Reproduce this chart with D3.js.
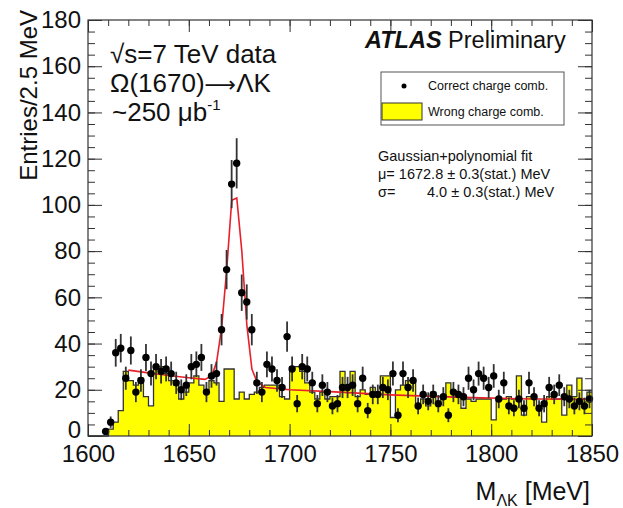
<!DOCTYPE html>
<html>
<head>
<meta charset="utf-8">
<script src="https://cdn.jsdelivr.net/npm/d3@7"></script>
<style>
  body { margin: 0; background: #fff; }
  text { font-family: "Liberation Sans", Arial, Helvetica, sans-serif; fill: #111; }
</style>
</head>
<body>
<div id="chart"></div>
<script>
// bins of 2.5 MeV starting at 1600 MeV
const binStart = 1600;
const binWidth = 2.5;

// wrong charge combinations (yellow histogram), one value per bin
const wrongCounts = [
  0, 0, 0, 0, 3, 6, 11, 28, 24, 22,
  25, 17, 13, 30, 30, 27, 24, 22, 16, 19,
  23, 26, 22, 20, 24, 23, 15, 29, 29, 16,
  19, 16, 18, 19, 21, 22, 22, 22, 17, 16,
  30, 30, 28, 23, 19, 16, 19, 16, 17, 17,
  28, 21, 28, 17, 20, 18, 21, 18, 26, 26,
  8, 20, 22, 24, 24, 13, 16, 13, 19, 14,
  16, 23, 19, 18, 12, 16, 15, 16, 16, 16,
  7, 16, 16, 17, 16, 26, 9, 17, 17, 13,
  6, 17, 16, 16, 9, 22, 17, 25, 16, 19
];

// correct charge combinations (data points), null = no point
const correctCounts = [
  null, null, null, 2, 6, 36, 38, 25, 37, 19,
  24, 34, 27, 30, 28, 29, 27, 23, 20, 22,
  30, 31, 34, 19, 26, 27, 46, 72, 109, 118,
  62, 58, 46, 23, 19, 31, 29, 24, 21, 43,
  29, 14, 30, 29, 23, 14, 22, 19, 13, 14,
  21, 21, 22, 14, 25, 11, 18, 18, 21, 20,
  27, 9, 27, 21, 24, 13, 18, 15, 18, 14,
  17, 9, 19, 18, 17, 25, 20, 27, 25, 21,
  26, 16, 23, 13, 12, 16, 12, 23, 17, 12,
  14, 21, 18, 22, 17, 16, 13, 15, 13, 16
];

// gaussian + polynomial fit
const fitMass  = [1620, 1630, 1640, 1650, 1658, 1661.3, 1663.8, 1666.3, 1668.8, 1671.3, 1673.8, 1676.3, 1678.8, 1681.3, 1683.8, 1688, 1700, 1720, 1750, 1786, 1820, 1850];
const fitValue = [28.5, 27.3, 26.2, 25.2, 24.5, 26, 32, 47, 72, 102, 103, 80, 48, 29, 23.5, 21, 20, 19.2, 17.8, 16.7, 16.0, 15.9];

const xTicks = [1600, 1650, 1700, 1750, 1800, 1850];
const yTicks = [0, 20, 40, 60, 80, 100, 120, 140, 160, 180];

const width = 623, height = 508;
const svg = d3.select("#chart").append("svg")
    .attr("width", width)
    .attr("height", height);

svg.append("rect").attr("width", width).attr("height", height).attr("fill", "#fff");

let x = d3.scaleLinear().domain([1600, 1850]).range([88, 592]);
let y = d3.scaleLinear().domain([0, 180]).range([436, 20]);

// histogram as step points
let steps = wrongCounts.map((v, i) => ({ m: binStart + i * binWidth, v: v }));
steps.push({ m: binStart + wrongCounts.length * binWidth, v: wrongCounts[wrongCounts.length - 1] });

let area = d3.area()
    .curve(d3.curveStepAfter)
    .x(d => x(d.m))
    .y0(y(0))
    .y1(d => y(d.v));

let outline = d3.line()
    .curve(d3.curveStepAfter)
    .x(d => x(d.m))
    .y(d => y(d.v));

svg.append("path")
    .datum(steps)
    .attr("d", area)
    .attr("fill", "#ffff00");

svg.append("path")
    .datum(steps)
    .attr("d", outline)
    .attr("fill", "none")
    .attr("stroke", "#333")
    .attr("stroke-width", 1.3);

// fit line
let fitPts = fitMass.map((m, i) => [m, fitValue[i]]);
svg.append("path")
    .datum(fitPts)
    .attr("d", d3.line().x(d => x(d[0])).y(d => y(d[1])))
    .attr("fill", "none")
    .attr("stroke", "#e8202a")
    .attr("stroke-width", 1.6);

// data points with sqrt(N) errors
let points = correctCounts
    .map((v, i) => ({ m: binStart + (i + 0.5) * binWidth, v: v }))
    .filter(d => d.v !== null);

svg.selectAll(".err")
    .data(points)
    .enter().append("line")
    .attr("class", "err")
    .attr("x1", d => x(d.m))
    .attr("x2", d => x(d.m))
    .attr("y1", d => y(d.v - Math.sqrt(d.v)))
    .attr("y2", d => y(d.v + Math.sqrt(d.v)))
    .attr("stroke", "#333")
    .attr("stroke-width", 1.8);

svg.selectAll(".pt")
    .data(points)
    .enter().append("circle")
    .attr("class", "pt")
    .attr("cx", d => x(d.m))
    .attr("cy", d => y(d.v))
    .attr("r", 3.7)
    .attr("fill", "#000");

// axes, ROOT style ticks inside on all four sides
function styleAxis(g) {
    g.select(".domain").remove();
    g.selectAll("line").attr("stroke", "#333");
    g.selectAll("text").attr("font-size", 24).attr("font-family", "Liberation Sans, Arial, sans-serif").attr("fill", "#111");
}

let xMinor = d3.range(1600, 1851, 10);
let yMinor = d3.range(0, 181, 5);

svg.append("g").attr("transform", "translate(0,436)")
    .call(d3.axisBottom(x).tickValues(xMinor).tickSize(-6).tickFormat(""))
    .call(styleAxis);
svg.append("g").attr("transform", "translate(0,436)")
    .call(d3.axisBottom(x).tickValues(xTicks).tickSize(-12).tickPadding(9).tickFormat(d3.format("d")))
    .call(styleAxis);
svg.append("g").attr("transform", "translate(0,20)")
    .call(d3.axisTop(x).tickValues(xMinor).tickSize(-6).tickFormat(""))
    .call(styleAxis);
svg.append("g").attr("transform", "translate(0,20)")
    .call(d3.axisTop(x).tickValues(xTicks).tickSize(-12).tickFormat(""))
    .call(styleAxis);

svg.append("g").attr("transform", "translate(88,0)")
    .call(d3.axisLeft(y).tickValues(yMinor).tickSize(-7).tickFormat(""))
    .call(styleAxis);
let yAxisG = svg.append("g").attr("transform", "translate(88,0)")
    .call(d3.axisLeft(y).tickValues(yTicks).tickSize(-14).tickPadding(7).tickFormat(d3.format("d")))
    .call(styleAxis);
// lift the zero a little so it clears the 1600 label
yAxisG.selectAll(".tick text").filter(d => d === 0).attr("dy", "0.05em");
svg.append("g").attr("transform", "translate(592,0)")
    .call(d3.axisRight(y).tickValues(yMinor).tickSize(-7).tickFormat(""))
    .call(styleAxis);
svg.append("g").attr("transform", "translate(592,0)")
    .call(d3.axisRight(y).tickValues(yTicks).tickSize(-14).tickFormat(""))
    .call(styleAxis);

// frame
svg.append("rect")
    .attr("x", 88).attr("y", 20)
    .attr("width", 504).attr("height", 416)
    .attr("fill", "none")
    .attr("stroke", "#333")
    .attr("stroke-width", 1.2);

// axis titles
svg.append("text")
    .attr("transform", "translate(37,10) rotate(-90)")
    .attr("text-anchor", "end")
    .attr("font-size", 24)
    .text("Entries/2.5 MeV");

let xt = svg.append("text")
    .attr("x", 590).attr("y", 500)
    .attr("text-anchor", "end")
    .attr("font-size", 25);
xt.append("tspan").text("M");
xt.append("tspan").attr("font-size", 16).attr("dy", 6).text("ΛK");
xt.append("tspan").attr("dy", -6).text(" [MeV]");

// labels top left
svg.append("text").attr("x", 110).attr("y", 63).attr("font-size", 26).text("√s=7 TeV data");
let decay = svg.append("text").attr("x", 110).attr("y", 92).attr("font-size", 26);
decay.append("tspan").text("Ω(1670)");
decay.append("tspan").attr("font-family", "DejaVu Sans").attr("font-size", 22).text("⟶");
decay.append("tspan").text("ΛK");
let lumi = svg.append("text").attr("x", 112).attr("y", 121).attr("font-size", 26);
lumi.append("tspan").text("~250 μb");
lumi.append("tspan").attr("font-size", 15).attr("dy", -11).text("-1");

// ATLAS Preliminary
let atlas = svg.append("text").attr("x", 365).attr("y", 48).attr("font-size", 23.5);
atlas.append("tspan").attr("font-weight", "bold").attr("font-style", "italic").text("ATLAS");
atlas.append("tspan").text(" Preliminary");

// legend
svg.append("rect")
    .attr("x", 381).attr("y", 72)
    .attr("width", 183).attr("height", 53)
    .attr("fill", "#fff")
    .attr("stroke", "#555")
    .attr("stroke-width", 1);
svg.append("circle").attr("cx", 404).attr("cy", 86).attr("r", 2.5).attr("fill", "#000");
svg.append("text").attr("x", 428).attr("y", 90).attr("font-size", 12.5).text("Correct charge comb.");
svg.append("rect")
    .attr("x", 382).attr("y", 103)
    .attr("width", 40).attr("height", 17)
    .attr("fill", "#ffff00")
    .attr("stroke", "#333");
svg.append("text").attr("x", 428).attr("y", 116).attr("font-size", 12.5).text("Wrong charge comb.");

// fit results
svg.append("text").attr("x", 378).attr("y", 161).attr("font-size", 14.5).text("Gaussian+polynomial fit");
svg.append("text").attr("x", 378).attr("y", 179).attr("font-size", 14.5).text("μ= 1672.8 ± 0.3(stat.) MeV");
svg.append("text").attr("x", 378).attr("y", 197).attr("font-size", 14.5).text("σ=");
svg.append("text").attr("x", 427).attr("y", 197).attr("font-size", 14.5).text("4.0 ± 0.3(stat.) MeV");
</script>
</body>
</html>
